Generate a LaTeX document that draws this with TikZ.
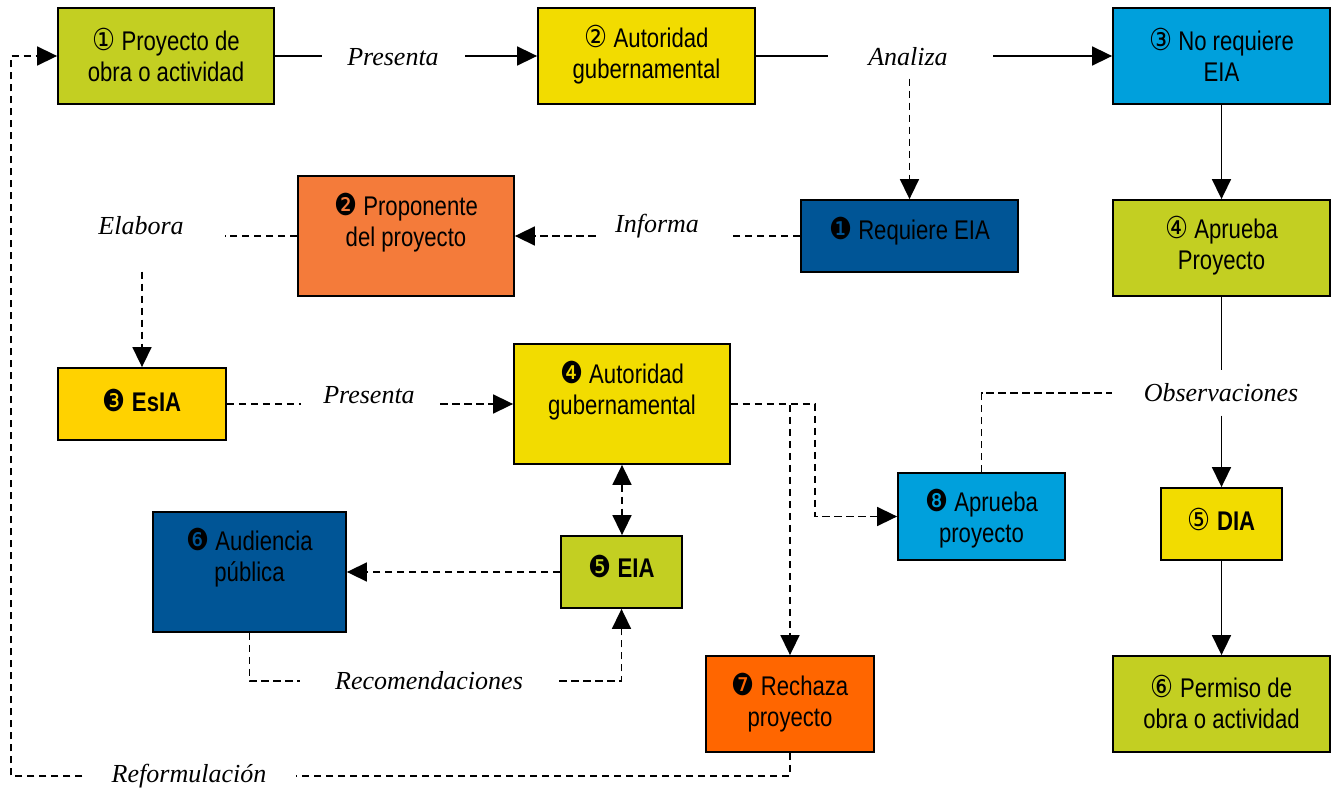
\documentclass[tikz,border=0pt]{standalone}
\usepackage{fontspec}
\setmainfont{Liberation Serif}
\setsansfont{Liberation Sans}[FakeStretch=0.82]
\newfontfamily\numfont{DejaVu Sans}[FakeStretch=0.85,Scale=1.12]
\usetikzlibrary{arrows.meta}
\definecolor{ygreen}{HTML}{C3CF22}
\definecolor{yel}{HTML}{F2DC00}
\definecolor{gold}{HTML}{FFD200}
\definecolor{lblue}{HTML}{00A0DC}
\definecolor{dblue}{HTML}{005596}
\definecolor{orgA}{HTML}{F47B3A}
\definecolor{orgB}{HTML}{FF6600}
\begin{document}
\begin{tikzpicture}[x=0.5pt,y=-0.5pt,
  box/.style={draw=black, line width=0.9pt, inner sep=0pt},
  sz/.style 2 args={minimum width=#1*0.5pt, minimum height=#2*0.5pt},
  btxt/.style={font=\sffamily\fontsize{13.5}{15.5}\selectfont, align=center, inner sep=0pt},
  lbl/.style={font=\itshape\fontsize{13}{15}\selectfont, inner sep=0pt},
  con/.style={line width=0.8pt},
  dsh/.style={con, dash pattern=on 3.75pt off 2.25pt},
  arr/.style={-{Triangle[length=10pt,width=9.5pt]}},
  darr/.style={{Triangle[length=10pt,width=9.5pt]}-{Triangle[length=10pt,width=9.5pt]}},
]
\useasboundingbox (0,0) rectangle (1334,791);

% boxes
\node[box, fill=ygreen, sz={216}{96}] (b1) at (166,56) {};
\node[btxt] (t1) at (166,55) {{\numfont ①} Proyecto de\\obra o actividad};
\node[box, fill=yel, sz={217}{96}] (b2) at (646.5,56) {};
\node[btxt] (t2) at (646.5,55) {{\numfont ②} Autoridad\\gubernamental};
\node[box, fill=lblue, sz={217}{96}] (b3) at (1221.5,56) {};
\node[btxt] (t3) at (1221.5,55) {{\numfont ③} No requiere\\EIA};
\node[box, fill=ygreen, sz={217}{96}] (b4) at (1221.5,248) {};
\node[btxt] (t4) at (1221.5,245.5) {{\numfont ④} Aprueba\\Proyecto};
\node[box, fill=yel, sz={121}{72}] (b5) at (1221.5,524) {};
\node[btxt] (t5) at (1221.5,519) {{\numfont ⑤} \textbf{DIA}};
\node[box, fill=ygreen, sz={217}{96}] (b6) at (1221.5,704) {};
\node[btxt] (t6) at (1221.5,701.5) {{\numfont ⑥} Permiso de\\obra o actividad};

\node[box, fill=dblue, sz={217}{72}] (r1) at (909.5,236) {};
\node[btxt] (s1) at (909.5,231) {{\numfont ❶} Requiere EIA};
\node[box, fill=orgA, sz={216}{120}] (r2) at (406,236) {};
\node[btxt] (s2) at (406,222.5) {{\numfont ❷} Proponente\\del proyecto};
\node[box, fill=gold, sz={168}{72}] (r3) at (142,404) {};
\node[btxt] (s3) at (142,400) {{\numfont ❸} \textbf{EsIA}};
\node[box, fill=yel, sz={216}{120}] (r4) at (622,404) {};
\node[btxt] (s4) at (622,390.5) {{\numfont ❹} Autoridad\\gubernamental};
\node[box, fill=ygreen, sz={121}{72}] (r5) at (621.5,572) {};
\node[btxt] (s5) at (621.5,566) {{\numfont ❺} \textbf{EIA}};
\node[box, fill=dblue, sz={193}{120}] (r6) at (249.5,572) {};
\node[btxt] (s6) at (249.5,557.5) {{\numfont ❻} Audiencia\\pública};
\node[box, fill=orgB, sz={168}{96}] (r7) at (790,704) {};
\node[btxt] (s7) at (790,702.5) {{\numfont ❼} Rechaza\\proyecto};
\node[box, fill=lblue, sz={167}{87}] (r8) at (981.5,516.5) {};
\node[btxt] (s8) at (981.5,518.5) {{\numfont ❽} Aprueba\\proyecto};

% labels
\node[lbl] (l1) at (393,57) {Presenta};
\node[lbl] (l2) at (908,57) {Analiza};
\node[lbl] (l3) at (657,226) {Informa};
\node[lbl] (l4) at (141,226) {Elabora};
\node[lbl] (l5) at (369,395) {Presenta};
\node[lbl] (l6) at (429,681) {Recomendaciones};
\node[lbl] (l7) at (1221,393) {Observaciones};
\node[lbl] (l8) at (189,776) {Reformulación};

\coordinate (k1) at (815,404);
\coordinate (k2) at (11,0);

% solid connectors
\draw[con, shorten >=12.5pt] (b1.east) -- (b1.east -| l1.west);
\draw[con, arr, shorten <=13pt] (b2.west -| l1.east) -- (b2.west);
\draw[con, shorten >=20pt] (b2.east) -- (b2.east -| l2.west);
\draw[con, arr, shorten <=22.5pt] (b3.west -| l2.east) -- (b3.west);
\draw[con, arr] (b3.south) -- (b4.north);
\draw[con, shorten >=6.5pt] (b4.south) -- (b4.south |- l7.north);
\draw[con, arr, shorten <=6.5pt] (b5.north |- l7.south) -- (b5.north);
\draw[con, arr] (b5.south) -- (b6.north);

% dashed connectors
\draw[dsh, arr, shorten <=6pt] (l2.south -| r1.north) -- (r1.north);
\draw[dsh, shorten >=14.5pt] (r1.west) -- (r1.west -| l3.east);
\draw[dsh, arr, shorten <=9.5pt] (r2.east -| l3.west) -- (r2.east);
\draw[dsh, shorten >=20.5pt] (r2.west) -- (r2.west -| l4.east);
\draw[dsh, arr, shorten <=18pt] (l4.south -| r3.north) -- (r3.north);
\draw[dsh, shorten >=11pt] (r3.east) -- (r3.east -| l5.west);
\draw[dsh, arr, shorten <=12.5pt] (r4.west -| l5.east) -- (r4.west);
\draw[dsh, darr] (r4.south) -- (r4.south |- r5.north);
\draw[dsh, arr] (r5.west) -- (r5.west -| r6.east);
\draw[dsh, shorten >=17.5pt] (r6.south) |- (l6.west);
\draw[dsh, arr, shorten <=18pt] (l6.east) -| (r5.south);
\draw[dsh, arr] (r4.east) -- (k1) |- (r8.west);
\draw[dsh, arr] (r4.east) -| (r7.north);
\draw[dsh, shorten >=15.5pt] (r8.north) |- (l7.west);
\draw[dsh, shorten >=14.5pt] (r7.south) |- (l8.east);
\draw[dsh, arr, shorten <=14.5pt] (l8.west) -- (l8.west -| k2) |- (b1.west);
\end{tikzpicture}
\end{document}
